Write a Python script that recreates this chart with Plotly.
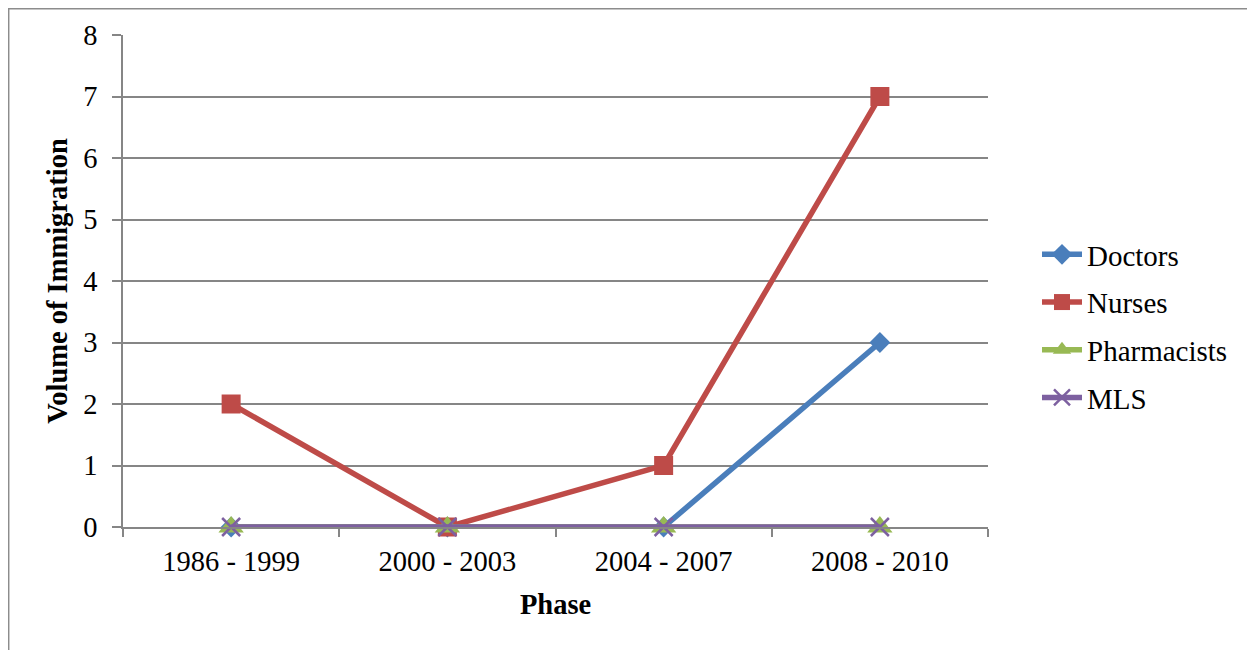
import plotly.graph_objects as go

phases = ["1986 - 1999", "2000 - 2003", "2004 - 2007", "2008 - 2010"]
doctors = [0, 0, 0, 3]
nurses = [2, 0, 1, 7]
pharmacists = [0, 0, 0, 0]
mls = [0, 0, 0, 0]

series = [
    ("Doctors", doctors, "#4A7EBB", "diamond", 16),
    ("Nurses", nurses, "#BE4B48", "square", 19),
    ("Pharmacists", pharmacists, "#98B954", "triangle-up", 22),
    ("MLS", mls, "#7D60A0", "x-thin", 18),
]

FONT = "Liberation Serif, Times New Roman, serif"
fig = go.Figure()
for name, vals, col, sym, sz in series:
    fig.add_trace(go.Scatter(
        x=phases, y=vals, name=name, mode="lines+markers", legendgroup=name,
        line=dict(color=col, width=5.5), cliponaxis=False,
        marker=dict(symbol=sym, size=sz, color=col,
                    line=dict(color=col, width=2.5 if sym == "x-thin" else 0)),
    ))

# page has an 8px body margin; figure coordinates are screen minus 8
OFF = 8
L, R, T, B = 123 - OFF, 988 - OFF, 35 - OFF, 527 - OFF
W, H = 1255 - OFF, 650 - OFF
pw, ph = R - L, B - T

def px(x):
    return (x - OFF - L) / pw

def py(y):
    return (B - (y - OFF)) / ph

fig.add_shape(type="rect", xref="paper", yref="paper",
              x0=px(8.7), x1=px(1253), y0=py(680), y1=py(8.7),
              line=dict(color="#8C8C8C", width=1.5), fillcolor="rgba(0,0,0,0)",
              layer="below")

fig.update_layout(
    width=W, height=H,
    margin=dict(l=L, r=W - R, t=T, b=H - B, pad=0, autoexpand=False),
    paper_bgcolor="white", plot_bgcolor="white",
    font=dict(family=FONT, size=28.5, color="black"),
    showlegend=True,
    legend=dict(x=px(1037), y=py(229), xanchor="left", yanchor="top",
                font=dict(family=FONT, size=29), tracegroupgap=7,
                itemwidth=40, bgcolor="rgba(0,0,0,0)"),
    xaxis=dict(
        type="category", range=[-0.5, 3.5], automargin=False,
        showgrid=False, showline=True, linecolor="#868686", linewidth=1.5,
        ticks="outside", tickson="boundaries", ticklen=8, tickcolor="#868686", tickwidth=1.5,
        tickfont=dict(family=FONT, size=28.5), ticklabelstandoff=8,
        title=dict(text="<b>Phase</b>", font=dict(family=FONT, size=28.5), standoff=18),
        zeroline=False,
    ),
    yaxis=dict(
        range=[0, 8], dtick=1, automargin=False,
        showgrid=True, gridcolor="#868686", gridwidth=1.5,
        showline=True, linecolor="#868686", linewidth=1.5,
        ticks="outside", ticklen=9, tickcolor="#868686", tickwidth=1.5,
        tickfont=dict(family=FONT, size=28.5), ticklabelstandoff=9,
        title=dict(text="<b>Volume of Immigration</b>", font=dict(family=FONT, size=28.5), standoff=7),
        zeroline=False,
    ),
)

fig.write_html("out.html")
